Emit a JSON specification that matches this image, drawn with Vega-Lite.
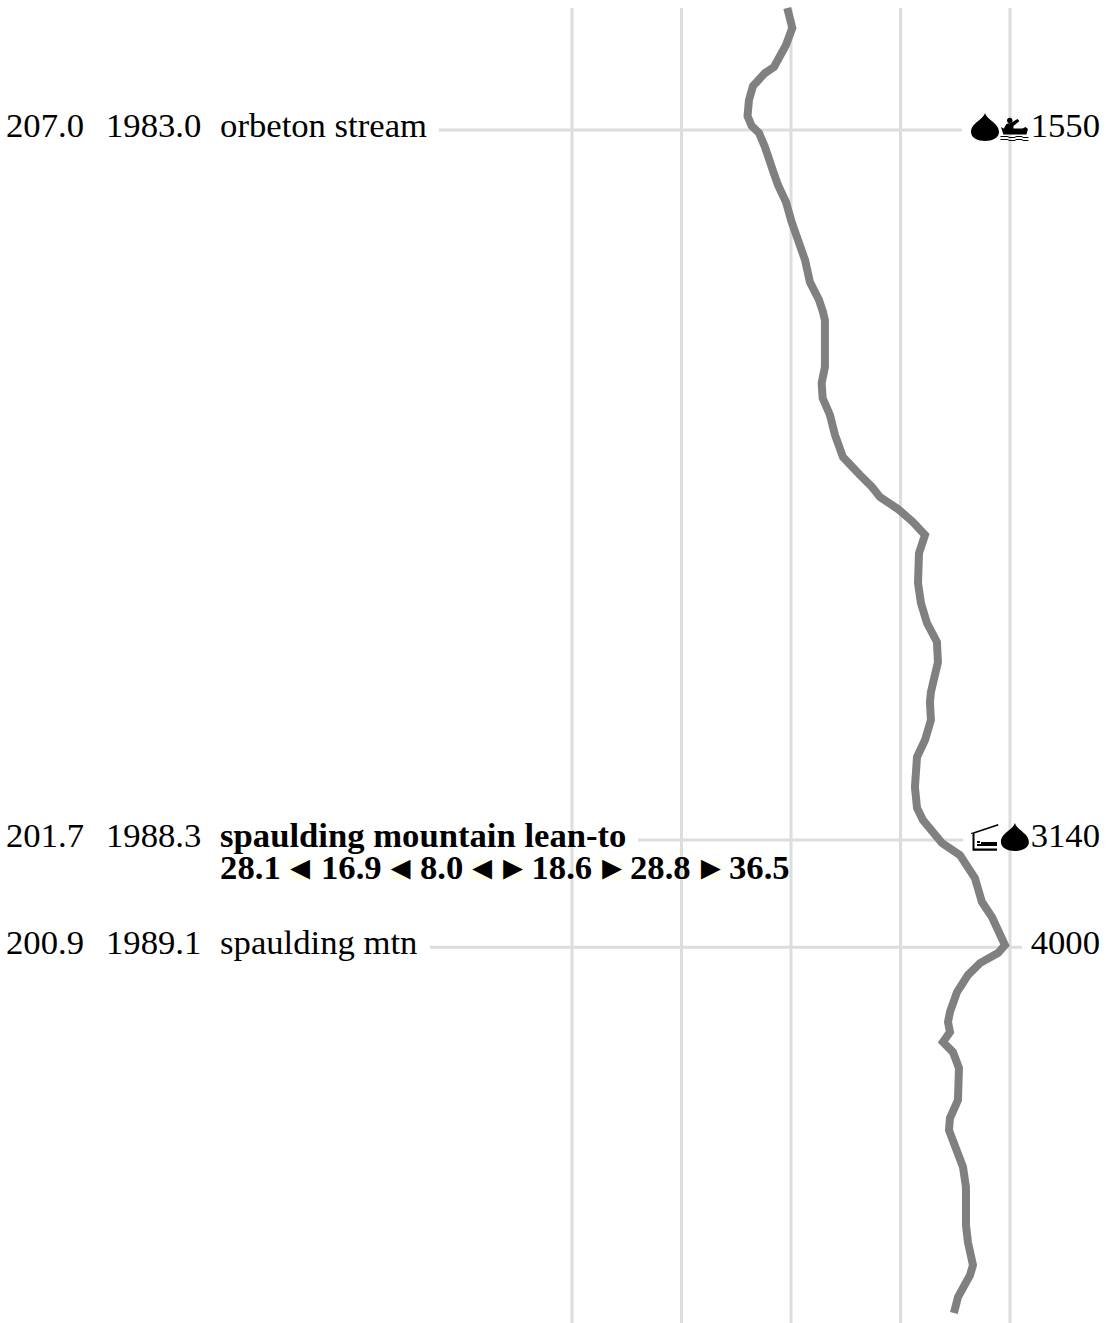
{"$schema":"https://vega.github.io/schema/vega-lite/v6.json","width":1106,"height":1323,"padding":0,"autosize":{"type":"none"},"background":"white","config":{"view":{"stroke":null}},
"datasets":{
"grid":[{"e":0,"a":1982.09,"b":1991.904},{"e":1000,"a":1982.09,"b":1991.904},{"e":2000,"a":1982.09,"b":1991.904},{"e":3000,"a":1982.09,"b":1991.904},{"e":4000,"a":1982.09,"b":1991.904}],
"leaders":[{"m":1983.0,"a":-1215,"b":3561},{"m":1988.3,"a":603,"b":3571},{"m":1989.1,"a":-1297,"b":4109}],
"rects":[{"a":-2584,"b":-2383},{"a":-1662,"b":-1461},{"a":-931,"b":-712},{"a":-648,"b":-447},{"a":265,"b":466},{"a":1169,"b":1361}],
"profile":[{"e":1966,"m":1982.09},{"e":2012,"m":1982.238},{"e":1954,"m":1982.366},{"e":1845,"m":1982.53},{"e":1762,"m":1982.575},{"e":1653,"m":1982.671},{"e":1616,"m":1982.777},{"e":1603,"m":1982.896},{"e":1641,"m":1982.97},{"e":1708,"m":1983.022},{"e":1762,"m":1983.127},{"e":1833,"m":1983.299},{"e":1881,"m":1983.411},{"e":1954,"m":1983.537},{"e":2006,"m":1983.687},{"e":2064,"m":1983.821},{"e":2128,"m":1983.97},{"e":2173,"m":1984.135},{"e":2256,"m":1984.269},{"e":2292,"m":1984.358},{"e":2310,"m":1984.419},{"e":2310,"m":1984.769},{"e":2280,"m":1984.889},{"e":2289,"m":1985.001},{"e":2356,"m":1985.127},{"e":2402,"m":1985.277},{"e":2475,"m":1985.441},{"e":2630,"m":1985.575},{"e":2740,"m":1985.664},{"e":2813,"m":1985.74},{"e":2977,"m":1985.829},{"e":3114,"m":1985.926},{"e":3224,"m":1986.023},{"e":3169,"m":1986.158},{"e":3160,"m":1986.381},{"e":3187,"m":1986.531},{"e":3242,"m":1986.68},{"e":3333,"m":1986.821},{"e":3342,"m":1986.971},{"e":3278,"m":1987.195},{"e":3269,"m":1987.269},{"e":3278,"m":1987.404},{"e":3224,"m":1987.553},{"e":3151,"m":1987.68},{"e":3132,"m":1987.904},{"e":3151,"m":1988.06},{"e":3205,"m":1988.15},{"e":3379,"m":1988.322},{"e":3543,"m":1988.412},{"e":3680,"m":1988.584},{"e":3744,"m":1988.762},{"e":3835,"m":1988.874},{"e":3954,"m":1989.084},{"e":3890,"m":1989.143},{"e":3726,"m":1989.218},{"e":3616,"m":1989.307},{"e":3516,"m":1989.435},{"e":3452,"m":1989.583},{"e":3434,"m":1989.658},{"e":3452,"m":1989.732},{"e":3388,"m":1989.807},{"e":3479,"m":1989.882},{"e":3534,"m":1990.001},{"e":3525,"m":1990.24},{"e":3452,"m":1990.374},{"e":3443,"m":1990.464},{"e":3571,"m":1990.74},{"e":3598,"m":1990.889},{"e":3598,"m":1991.173},{"e":3616,"m":1991.3},{"e":3662,"m":1991.472},{"e":3635,"m":1991.547},{"e":3525,"m":1991.711},{"e":3488,"m":1991.83}],
"labels":[{"m":1983.0,"x":-5169,"t":"207.0"},{"m":1983.0,"x":-4256,"t":"1983.0"},{"m":1983.0,"x":-3214,"t":"orbeton stream"},{"m":1988.3,"x":-5169,"t":"201.7"},{"m":1988.3,"x":-4256,"t":"1988.3"},{"m":1989.1,"x":-5169,"t":"200.9"},{"m":1989.1,"x":-4256,"t":"1989.1"},{"m":1989.1,"x":-3214,"t":"spaulding mtn"}],
"bold":[{"m":1988.3,"x":-3214,"t":"spaulding mountain lean-to"},{"m":1988.535,"x":-3214,"t":"28.1"},{"m":1988.535,"x":-2292,"t":"16.9"},{"m":1988.535,"x":-1388,"t":"8.0"},{"m":1988.535,"x":-370,"t":"18.6"},{"m":1988.535,"x":530,"t":"28.8"},{"m":1988.535,"x":1434,"t":"36.5"}],
"tri":[{"m":1988.535,"x":-2484,"t":"◄"},{"m":1988.535,"x":-1566,"t":"◄"},{"m":1988.535,"x":-822,"t":"◄"},{"m":1988.535,"x":-539,"t":"►"},{"m":1988.535,"x":365,"t":"►"},{"m":1988.535,"x":1269,"t":"►"}],
"elev":[{"m":1983.0,"x":4822,"t":"1550"},{"m":1988.3,"x":4822,"t":"3140"},{"m":1989.1,"x":4822,"t":"4000"}],
"icons":[{"m":1983.0,"x":3772,"icon":"water"},{"m":1983.0,"x":4041,"icon":"canoe"},{"m":1988.3,"x":3772,"icon":"shelter"},{"m":1988.3,"x":4045,"icon":"water"}]
},
"layer":[
{"data":{"name":"grid"},"mark":{"type":"rule","stroke":"#dddddd","strokeWidth":3},"encoding":{"x":{"field":"e","type":"quantitative","scale":{"domain":[-5224,4877],"nice":false,"zero":false},"axis":null},"y":{"field":"a","type":"quantitative","scale":{"domain":[1982.0297,1991.904],"reverse":true,"nice":false,"zero":false},"axis":null},"y2":{"field":"b"}}},
{"data":{"name":"leaders"},"mark":{"type":"rule","stroke":"#dddddd","strokeWidth":3},"encoding":{"x":{"field":"a","type":"quantitative","axis":null},"x2":{"field":"b"},"y":{"field":"m","type":"quantitative","axis":null}}},
{"data":{"name":"rects"},"mark":{"type":"rect","fill":"#ffffee"},"encoding":{"x":{"field":"a","type":"quantitative","axis":null},"x2":{"field":"b"},"y":{"datum":1988.449,"type":"quantitative","axis":null},"y2":{"datum":1988.599}}},
{"data":{"name":"profile"},"mark":{"type":"line","stroke":"#808080","strokeWidth":8,"strokeJoin":"miter","strokeCap":"butt","clip":false},"encoding":{"x":{"field":"e","type":"quantitative","axis":null},"y":{"field":"m","type":"quantitative","axis":null},"order":{"field":"m","type":"quantitative"}}},
{"data":{"name":"labels"},"mark":{"type":"text","font":"Liberation Serif","fontSize":34.67,"align":"left","baseline":"alphabetic","dy":7,"fill":"black"},"encoding":{"x":{"field":"x","type":"quantitative","axis":null},"y":{"field":"m","type":"quantitative","axis":null},"text":{"field":"t"}}},
{"data":{"name":"bold"},"mark":{"type":"text","font":"Liberation Serif","fontSize":34.67,"fontWeight":"bold","align":"left","baseline":"alphabetic","dy":7,"fill":"black"},"encoding":{"x":{"field":"x","type":"quantitative","axis":null},"y":{"field":"m","type":"quantitative","axis":null},"text":{"field":"t"}}},
{"data":{"name":"tri"},"mark":{"type":"text","font":"Liberation Serif","fontSize":33,"fontWeight":"bold","align":"center","baseline":"alphabetic","dy":7,"fill":"black"},"encoding":{"x":{"field":"x","type":"quantitative","axis":null},"y":{"field":"m","type":"quantitative","axis":null},"text":{"field":"t"}}},
{"data":{"name":"elev"},"mark":{"type":"text","font":"Liberation Serif","fontSize":34.67,"align":"right","baseline":"alphabetic","dy":7,"fill":"black"},"encoding":{"x":{"field":"x","type":"quantitative","axis":null},"y":{"field":"m","type":"quantitative","axis":null},"text":{"field":"t"}}},
{"data":{"name":"icons"},"mark":{"type":"point","filled":true,"fill":"black","opacity":1,"strokeWidth":0,"size":4},"encoding":{"x":{"field":"x","type":"quantitative","axis":null},"y":{"field":"m","type":"quantitative","axis":null},"shape":{"field":"icon","type":"nominal","legend":null,"scale":{"domain":["water","canoe","shelter"],"range":["M0,-17C2,-10 14,-7 14,2C14,8 7,11 0,11C-7,11 -14,8 -14,2C-14,-7 -2,-10 0,-17Z","M-13.5,-3L-11,-1.5L8,-1.5L11,-3L13.5,-1L12,4.5L-11,4.5ZM-11,-1L-8,-6L-3,-7.5L3,-11L5,-9L-1,-4L-1,-1ZM-7.5,-9.5a2.8,2.8 0 1,0 5.6,0a2.8,2.8 0 1,0 -5.6,0ZM-14,6H-7L-5,7H0L2,6H7L9,7H14V8H9L7,7H2L0,8H-5L-7,7H-14ZM-14,9H-7L-5,10H0L2,9H7L9,10H14V11H9L7,10H2L0,11H-5L-7,10H-14Z","M-14,-7L13,-16L13.5,-14.5L-10.5,-6.5V8.5H12V10.7H-12.5V-6.5L-14,-6ZM-8,1H-5V3H-8ZM-4,2H12V6H-8V4H-4Z"]}}}}
]}
